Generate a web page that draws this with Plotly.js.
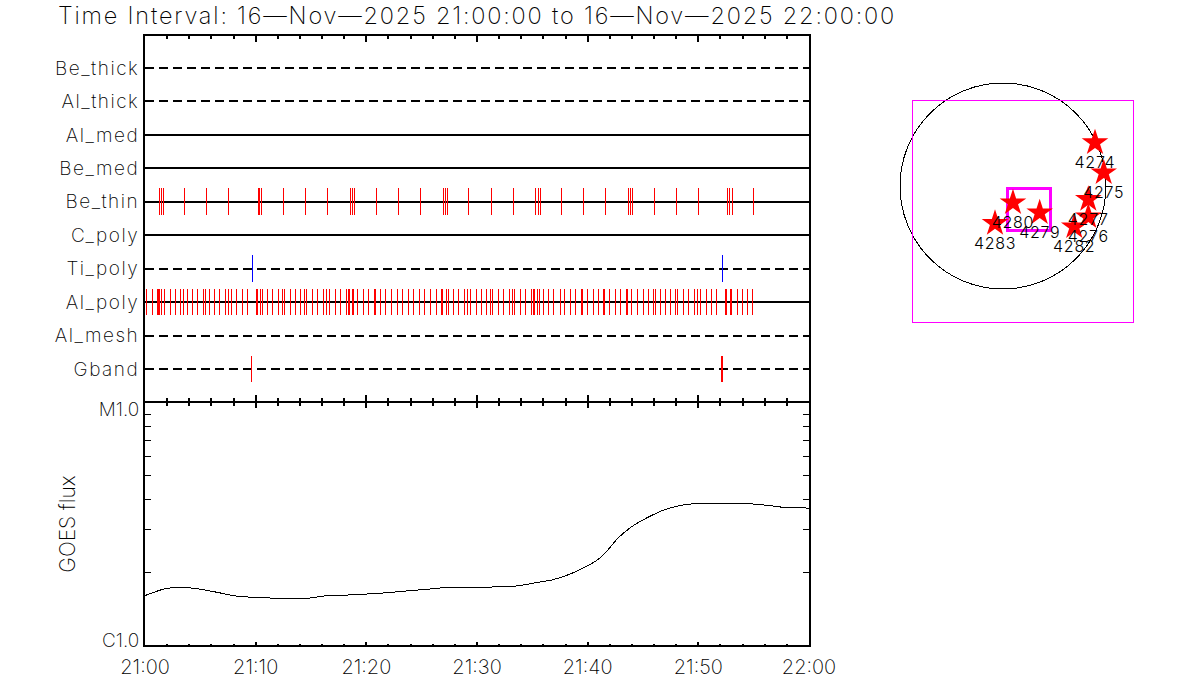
<!DOCTYPE html>
<html>
<head>
<meta charset="utf-8">
<script src="https://cdn.plot.ly/plotly-3.0.1.min.js"></script>
<style>
html,body{margin:0;padding:0;background:#fff}
#chart{width:1200px;height:700px}
.gtitle{letter-spacing:1.8px}
.xtick text{letter-spacing:3px}
.ytick text{letter-spacing:1.5px}
.ytitle{letter-spacing:1.5px}
.textpoint text{letter-spacing:0.7px}
.js-line{shape-rendering:crispEdges}
.shapelayer path{shape-rendering:crispEdges}
</style>
</head>
<body>
<div id="chart"></div>
<script>
var titleText = "Time Interval: 16-Nov-2025 21:00:00 to 16-Nov-2025 22:00:00".replace(/-/g, "\u2014");
var rowNames = ["Be_thick","Al_thick","Al_med","Be_med","Be_thin","C_poly","Ti_poly","Al_poly","Al_mesh","Gband"];
var rowDashed = [true,true,false,false,false,false,true,false,true,true];
var startTimeUtcMs = Date.UTC(2025,10,16,21,0,0);

var beThinEvents = [1.33,1.51,1.64,3.59,5.57,7.56,10.28,10.35,10.53,12.52,14.50,16.48,18.56,18.74,18.92,20.90,22.89,24.87,26.94,27.12,27.30,29.20,31.27,33.26,35.33,35.60,35.73,37.67,39.66,41.64,43.72,43.90,44.08,46.06,48.04,50.03,52.64,52.82,53.09,54.99];
var tiPolyEvents = [9.72,52.15];
var gbandEvents = [9.63,52.08,52.17];
var alPolyEvents = [0.17,0.71,1.16,1.22,1.28,1.52,1.79,2.33,2.78,3.23,3.50,3.86,4.31,4.76,5.31,5.49,5.85,6.30,6.75,7.29,7.56,7.83,8.28,8.82,9.27,10.08,10.14,10.20,10.44,10.63,11.08,11.53,12.07,12.43,12.61,13.15,13.60,14.05,14.41,14.59,15.13,15.58,16.13,16.39,16.67,17.21,17.66,18.20,18.38,18.44,18.50,18.74,18.80,18.86,19.19,19.73,20.18,20.72,20.78,20.84,21.27,21.72,22.26,22.80,23.25,23.79,24.24,24.78,25.23,25.77,26.31,26.77,26.83,26.89,27.22,27.40,27.85,28.30,28.84,29.11,29.38,29.92,30.37,30.82,31.18,31.36,31.90,32.36,32.90,33.17,33.35,33.89,34.34,34.88,35.15,35.21,35.51,35.69,36.05,36.50,36.95,37.50,37.56,37.95,38.49,38.94,39.48,39.54,40.02,40.56,41.01,41.47,41.52,42.00,42.55,43.00,43.54,43.60,43.99,44.53,45.07,45.52,45.97,46.15,46.60,47.05,47.50,47.96,48.14,48.68,49.13,49.67,49.94,50.21,50.75,51.20,51.65,52.46,52.52,52.91,52.97,53.55,54.00,54.45,54.90];

var goesMinutes = [0,1.85,3.47,5.0,6.54,8.34,10.41,11.95,14.65,16.46,18.53,19.59,21.51,23.49,25.56,26.65,29.5,33.41,35.37,36.84,38.37,39.87,41.01,41.82,42.72,43.93,45.28,47.09,48.89,50.69,54.3,56.4,57.6,59.83,60];
var goesFlux = [1.60e-6,1.71e-6,1.73e-6,1.70e-6,1.65e-6,1.59e-6,1.57e-6,1.56e-6,1.56e-6,1.60e-6,1.61e-6,1.62e-6,1.64e-6,1.67e-6,1.70e-6,1.72e-6,1.73e-6,1.75e-6,1.81e-6,1.86e-6,1.96e-6,2.11e-6,2.27e-6,2.47e-6,2.76e-6,3.07e-6,3.34e-6,3.64e-6,3.81e-6,3.84e-6,3.84e-6,3.77e-6,3.71e-6,3.68e-6,3.67e-6];
var fluxMinorTicks = [2e-6,3e-6,4e-6,5e-6,6e-6,7e-6,8e-6,9e-6];
var fluxLabels = ["C1.0","M1.0"];
var fluxLabelPositions = [1.05e-6,9.45e-6];

var arNames = ["4274","4275","4277","4276","4282","4280","4279","4283"];
var arX = [865,947,802,802,670,94,345,-75];
var arY = [407,125,-125,-289,-383,-157,-251,-351];
var solarRadius = 968;
var fovX = [-855,1231];
var fovY = [-1278,808];
var subFovX = [38,442];
var subFovY = [-414,-19];

function toTime(m){ return startTimeUtcMs + m*60000; }
var timeRange = [toTime(0), toTime(60)];
var FONT = "Inter, 'DejaVu Sans', sans-serif";

function eventTrace(events, row, color){
  var xs=[], ys=[];
  events.forEach(function(t){ xs.push(toTime(t),toTime(t),null); ys.push(row-0.4,row+0.4,null); });
  return {x:xs,y:ys,xaxis:"x",yaxis:"y",mode:"lines",type:"scatter",hoverinfo:"skip",
          line:{color:color,width:1},showlegend:false};
}

var traces = [];
rowNames.forEach(function(name,i){
  traces.push({x:timeRange,y:[i,i],xaxis:"x",yaxis:"y",mode:"lines",type:"scatter",name:name,showlegend:false,
    line:{color:"#000",width:2,dash:rowDashed[i]?"9px,5px":"solid"}});
});
traces.push(eventTrace(beThinEvents, rowNames.indexOf("Be_thin"), "#ff0000"));
traces.push(eventTrace(tiPolyEvents, rowNames.indexOf("Ti_poly"), "#0000ff"));
traces.push(eventTrace(alPolyEvents, rowNames.indexOf("Al_poly"), "#ff0000"));
traces.push(eventTrace(gbandEvents, rowNames.indexOf("Gband"), "#ff0000"));
traces.push({x:goesMinutes.map(toTime),y:goesFlux,xaxis:"x2",yaxis:"y2",mode:"lines",type:"scatter",showlegend:false,
  line:{color:"#000",width:1,shape:"spline",smoothing:0.7}});
traces.push({x:arX,y:arY,text:arNames,xaxis:"x3",yaxis:"y3",mode:"markers+text",type:"scatter",showlegend:false,
  textposition:"bottom center",textfont:{size:16,color:"#000",family:FONT,weight:300},
  marker:{symbol:"star",size:20,color:"#ff0000",line:{width:0}},cliponaxis:false});
traces.push({x:timeRange,y:[null,null],xaxis:"x4",yaxis:"y",mode:"lines",type:"scatter",showlegend:false,hoverinfo:"skip"});
traces.push({x:timeRange,y:[null,null],xaxis:"x5",yaxis:"y2",mode:"lines",type:"scatter",showlegend:false,hoverinfo:"skip"});

var tickFont = {family:FONT,size:19,color:"#000",weight:200};
var xTickFont = {family:FONT,size:20,color:"#000",weight:200};

function timeAxis(extra, majorLen, minorLen){
  var base = {type:"date",range:timeRange,showgrid:false,zeroline:false,
    showline:true,linecolor:"#000",linewidth:2,
    tick0:startTimeUtcMs,dtick:600000,tickformat:"%H:%M",
    ticks:"inside",ticklen:majorLen,tickwidth:2,tickcolor:"#000",tickfont:xTickFont,domain:[145/1200,809/1200],
    minor:{tick0:startTimeUtcMs,dtick:120000,ticks:"inside",ticklen:minorLen,tickwidth:2,tickcolor:"#000",showgrid:false}};
  for(var k in extra){ base[k]=extra[k]; }
  return base;
}

var layout = {
  width:1200,height:700,autosize:false,
  paper_bgcolor:"#fff",plot_bgcolor:"#fff",showlegend:false,
  margin:{l:0,r:0,t:0,b:0},
  title:{text:titleText,x:58/1200,xanchor:"left",xref:"paper",y:1-16/700,yanchor:"middle",
         font:{family:FONT,size:23.5,color:"#000",weight:200}},
  xaxis:timeAxis({anchor:"y",showticklabels:false},6,3),
  xaxis4:timeAxis({anchor:"y",overlaying:"x",side:"top",showticklabels:false},6,3),
  yaxis:{domain:[1-401/700,1-36/700],range:[9.958,-0.957],anchor:"x",showgrid:false,zeroline:false,
    showline:true,linecolor:"#000",linewidth:2,mirror:true,
    tickmode:"array",tickvals:rowNames.map(function(n,i){return i;}),ticktext:rowNames,
    ticks:"",tickfont:tickFont},
  xaxis2:timeAxis({anchor:"y2",ticklabelstandoff:3},3,1),
  xaxis5:timeAxis({anchor:"y2",overlaying:"x2",side:"top",showticklabels:false},5,3),
  yaxis2:{domain:[1-645/700,1-403/700],type:"log",range:[-6,-5],anchor:"x2",showgrid:false,zeroline:false,
    showline:true,linecolor:"#000",linewidth:2,mirror:"ticks",
    tickmode:"array",tickvals:fluxLabelPositions,ticktext:fluxLabels,ticks:"",tickfont:tickFont,
    minor:{tickmode:"array",tickvals:fluxMinorTicks,ticks:"inside",ticklen:6,tickwidth:1,tickcolor:"#000",showgrid:false},
    title:{text:"GOES flux",font:{family:FONT,size:21,color:"#000",weight:200},standoff:17}},
  xaxis3:{domain:[895/1200,1140/1200],range:[-1015,1288],anchor:"y3",visible:false,fixedrange:true},
  yaxis3:{domain:[1-327/700,1-78/700],range:[-1325,1015],anchor:"x3",visible:false,fixedrange:true},
  shapes:[
    {type:"circle",xref:"x3",yref:"y3",x0:-solarRadius,x1:solarRadius,y0:-solarRadius,y1:solarRadius,
     line:{color:"#000",width:1},layer:"below"},
    {type:"rect",xref:"x3",yref:"y3",x0:fovX[0],x1:fovX[1],y0:fovY[0],y1:fovY[1],
     line:{color:"#ff00ff",width:1},layer:"below"},
    {type:"rect",xref:"x3",yref:"y3",x0:subFovX[0],x1:subFovX[1],y0:subFovY[0],y1:subFovY[1],
     line:{color:"#ff00ff",width:3},layer:"below"}
  ]
};
Plotly.newPlot("chart",traces,layout,{displayModeBar:false,staticPlot:true});
</script>
</body>
</html>
